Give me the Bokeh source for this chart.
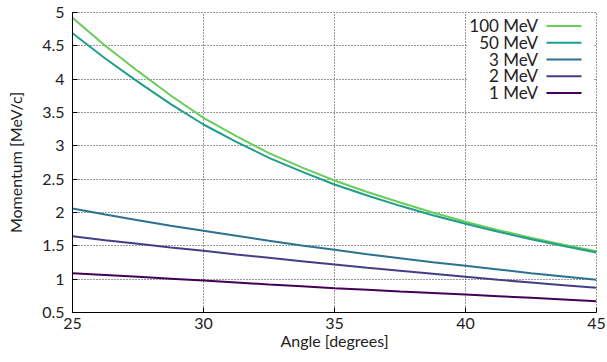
from bokeh.plotting import figure
from bokeh.models import FixedTicker, Label, BoxAnnotation, Range1d
from bokeh.embed import file_html
from bokeh.resources import INLINE

# ---- data ----
angles = [25, 26.25, 27.5, 28.75, 30, 31.25, 32.5, 33.75, 35,
          36.25, 37.5, 38.75, 40, 41.25, 42.5, 43.75, 45]
p_100mev = [4.92, 4.50, 4.12, 3.755, 3.42, 3.144, 2.89, 2.676, 2.48,
            2.308, 2.15, 2.0, 1.86, 1.736, 1.62, 1.517, 1.42]
p_50mev = [4.69, 4.31, 3.96, 3.625, 3.32, 3.06, 2.82, 2.613, 2.42,
           2.255, 2.10, 1.96, 1.83, 1.711, 1.60, 1.496, 1.40]
p_3mev = [2.06, 1.97, 1.885, 1.80, 1.725, 1.65, 1.575, 1.505, 1.44,
          1.375, 1.315, 1.255, 1.20, 1.145, 1.09, 1.04, 0.99]
p_2mev = [1.645, 1.585, 1.53, 1.475, 1.425, 1.37, 1.32, 1.27, 1.22,
          1.17, 1.125, 1.08, 1.035, 0.99, 0.95, 0.91, 0.87]
p_1mev = [1.09, 1.062, 1.035, 1.007, 0.98, 0.95, 0.92, 0.892, 0.865,
          0.84, 0.815, 0.792, 0.77, 0.745, 0.72, 0.695, 0.67]

series_names = ["100 MeV", "50 MeV", "3 MeV", "2 MeV", "1 MeV"]
series_values = [p_100mev, p_50mev, p_3mev, p_2mev, p_1mev]
series_colors = ["#6acd5b", "#1f9e89", "#2c728e", "#433e85", "#440154"]

x_ticks = [25, 30, 35, 40, 45]
y_ticks = [0.5, 1, 1.5, 2, 2.5, 3, 3.5, 4, 4.5, 5]
y_tick_labels = ["0.5", "1", "1.5", "2", "2.5", "3", "3.5", "4", "4.5", "5"]

FONT = "Lato"
TXT = "#222222"
GRID = "#333333"

p = figure(width=607, height=362, x_range=Range1d(25, 45), y_range=Range1d(0.5, 5),
           output_backend="svg", toolbar_location=None,
           min_border_left=72, min_border_right=11, min_border_top=12, min_border_bottom=50)

p.background_fill_color = "white"
p.border_fill_color = "white"
p.outline_line_color = GRID
p.outline_line_dash = "1 2"
p.outline_line_width = 1

p.xaxis.ticker = FixedTicker(ticks=x_ticks)
p.yaxis.ticker = FixedTicker(ticks=y_ticks)
p.yaxis.major_label_overrides = {v: s for v, s in zip(y_ticks, y_tick_labels)}

for ax in (p.xaxis, p.yaxis):
    ax.axis_line_color = "black"
    ax.axis_line_width = 1
    ax.major_tick_line_color = "black"
    ax.major_tick_in = 5
    ax.major_tick_out = 0
    ax.minor_tick_in = 0
    ax.minor_tick_out = 0
    ax.major_label_text_font = FONT
    ax.major_label_text_font_size = "16px"
    ax.major_label_text_color = TXT
    ax.axis_label_text_font = FONT
    ax.axis_label_text_font_size = "16px"
    ax.axis_label_text_font_style = "normal"
    ax.axis_label_text_color = TXT

p.xaxis.axis_label = "Angle [degrees]"
p.yaxis.axis_label = "Momentum [MeV/c]"
p.xaxis.major_label_standoff = 5
p.xaxis.axis_label_standoff = -1
p.yaxis.major_label_standoff = 8
p.yaxis.axis_label_standoff = 14

p.grid.grid_line_color = GRID
p.grid.grid_line_dash = "1 2"
p.grid.grid_line_width = 1

for vals, col in zip(series_values, series_colors):
    p.line(angles, vals, line_color=col, line_width=2)

# ---- legend (gnuplot style: text left, sample right), frame-relative screen units ----
p.add_layout(BoxAnnotation(left=394.5, right=521, bottom=210, top=299,
                           left_units="screen", right_units="screen",
                           top_units="screen", bottom_units="screen",
                           fill_color="white", fill_alpha=1.0, line_color=None))
row_top = 286.5
row_step = 16.75
for i, (name, col) in enumerate(zip(series_names, series_colors)):
    yl = row_top - i * row_step
    p.add_layout(BoxAnnotation(left=474, right=509, bottom=yl - 1, top=yl + 1,
                               left_units="screen", right_units="screen",
                               top_units="screen", bottom_units="screen",
                               fill_color=col, fill_alpha=1.0, line_color=None))
    p.add_layout(Label(x=465.5, y=yl + 0.5, x_units="screen", y_units="screen",
                       text=name, text_align="right", text_baseline="alphabetic",
                       text_font=FONT, text_font_size="17px", text_color=TXT))

open("out.html", "w").write(file_html(p, INLINE))
